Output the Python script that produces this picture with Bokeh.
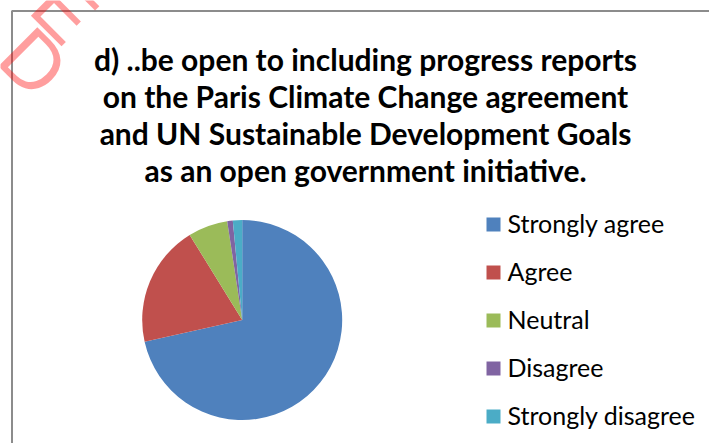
import math
from bokeh.plotting import figure
from bokeh.models import Label
from bokeh.core.properties import value
from bokeh.embed import file_html
from bokeh.resources import INLINE

# ---- data ----
categories = ["Strongly agree", "Agree", "Neutral", "Disagree", "Strongly disagree"]
shares = [71.5, 19.7, 6.4, 0.9, 1.5]
colors = ["#4F81BD", "#C0504D", "#9BBB59", "#8064A2", "#4BACC6"]
title_lines = [
    "d) ..be open to including progress reports",
    "on the Paris Climate Change agreement",
    "and UN Sustainable Development Goals",
    "as an open government initiative.",
]

W, H = 709, 443
p = figure(width=W, height=H, x_range=(0, W), y_range=(0, H),
           output_backend="svg", toolbar_location=None, min_border=0)
p.axis.visible = False
p.grid.visible = False
p.outline_line_color = None
p.background_fill_color = "white"
p.border_fill_color = "white"

def py(y_page):
    return H - y_page

def px(x_page):
    return x_page

# chart border (left and top visible)
p.line([px(11.5), px(11.5), W], [0, py(10.5), py(10.5)], line_color="#8C8C8C", line_width=2)

# watermark
for ch, (wx, wy) in zip(["D", "E"], [(33, 62), (64, 10)]):
    p.add_layout(Label(x=px(wx), y=py(wy), text=ch, angle=-45, angle_units="deg",
                       text_align="center", text_baseline="middle",
                       text_font="Liberation Sans", text_font_size="80px",
                       text_color="#FF0000", text_alpha=0.38))

# title
tx = px(365)
for i, line in enumerate(title_lines):
    p.text(x=[tx], y=[py(58 + 37 * i)], text=[line], text_align="center",
           text_baseline="alphabetic", text_font=value("Lato"), text_font_style="bold",
           text_font_size="30px", text_color="black")

# pie
total = sum(shares)
starts, ends = [], []
acc = 0.0
for s in shares:
    starts.append(math.pi / 2 - 2 * math.pi * acc / total)
    acc += s
    ends.append(math.pi / 2 - 2 * math.pi * acc / total)
p.wedge(x=px(241.7), y=py(319.5), radius=100, radius_units="screen",
        start_angle=starts, end_angle=ends, direction="clock",
        fill_color=colors, line_color=None)

# legend
for i, (cat, col) in enumerate(zip(categories, colors)):
    yy = py(224 + 48 * i)
    p.scatter(x=[px(493)], y=[yy], marker="square", size=14, fill_color=col, line_color=None)
    p.text(x=[px(507)], y=[yy + 2], text=[cat], text_align="left", text_baseline="middle",
           text_font=value("Lato"), text_font_size="25px", text_color="black")

open("out.html", "w").write(file_html(p, INLINE))
